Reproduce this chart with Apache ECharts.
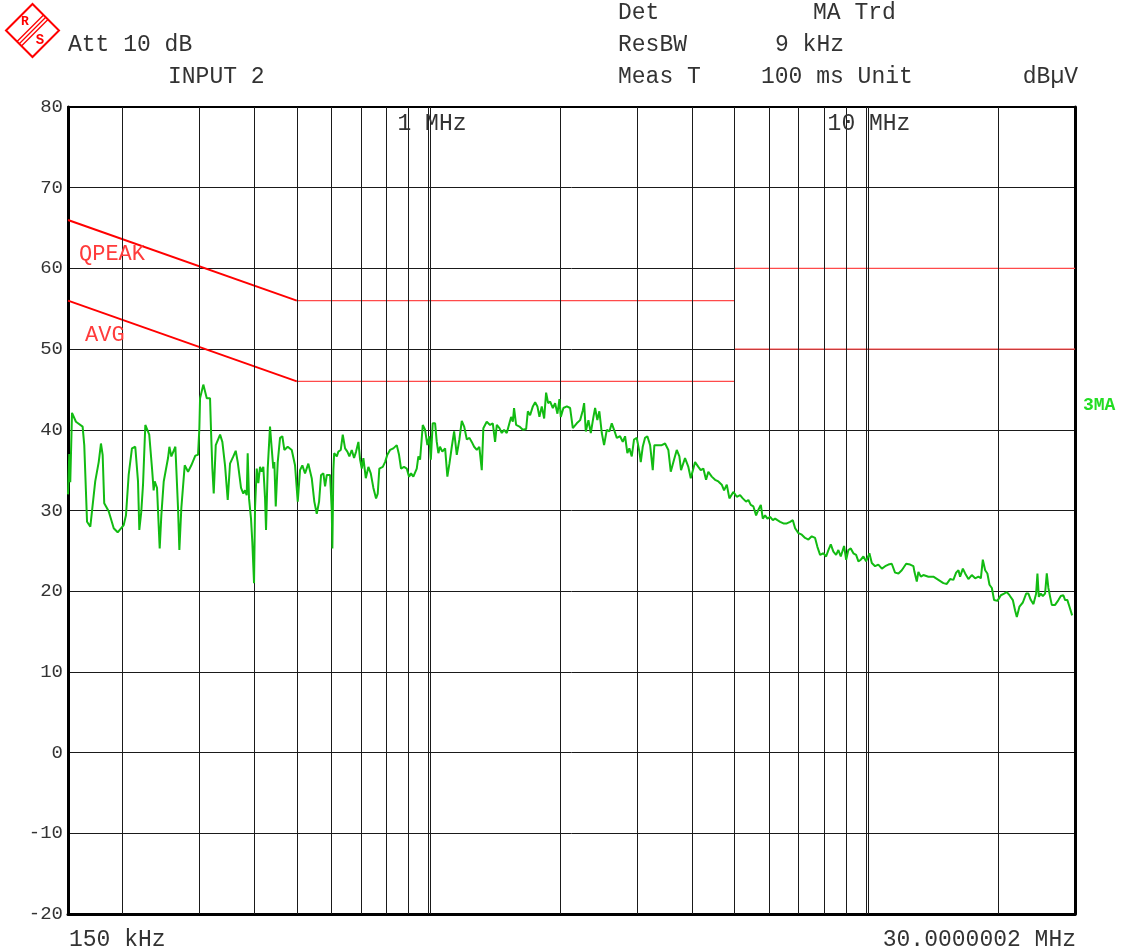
<!DOCTYPE html>
<html><head><meta charset="utf-8">
<script src="https://cdn.jsdelivr.net/npm/echarts@6/dist/echarts.min.js"></script>
<style>html,body{margin:0;padding:0;background:#fff}#c{width:1121px;height:952px}</style>
</head><body><div id="c"></div>
<script>
// ---- data (frequency in MHz, level in dBµV) ----
const traceFreqMHz = [
0.1500,0.1510,0.1518,0.1532,0.1564,0.1620,0.1634,0.1658,0.1687,0.1731,
0.1763,0.1784,0.1800,0.1815,0.1858,0.1908,0.1948,0.2011,0.2035,0.2064,
0.2100,0.2137,0.2168,0.2183,0.2206,0.2226,0.2253,0.2300,0.2334,0.2354,
0.2367,0.2396,0.2430,0.2451,0.2482,0.2539,0.2557,0.2584,0.2639,0.2676,
0.2695,0.2723,0.2772,0.2821,0.2870,0.2931,0.2973,0.2994,0.3005,0.3057,
0.3113,0.3167,0.3184,0.3206,0.3229,0.3264,0.3339,0.3379,0.3427,0.3476,
0.3518,0.3580,0.3625,0.3664,0.3728,0.3773,0.3807,0.3841,0.3861,0.3888,
0.3929,0.3956,0.3992,0.4013,0.4049,0.4083,0.4120,0.4156,0.4192,0.4230,
0.4252,0.4290,0.4342,0.4381,0.4418,0.4442,0.4475,0.4522,0.4577,0.4633,
0.4682,0.4766,0.4868,0.4953,0.5024,0.5085,0.5147,0.5221,0.5312,0.5408,
0.5482,0.5553,0.5621,0.5680,0.5750,0.5801,0.5854,0.5903,0.5956,0.6010,
0.6028,0.6060,0.6085,0.6170,0.6222,0.6300,0.6367,0.6445,0.6523,0.6593,
0.6676,0.6757,0.6829,0.6913,0.6974,0.7037,0.7097,0.7187,0.7286,0.7378,
0.7480,0.7586,0.7654,0.7718,0.7858,0.7954,0.8050,0.8166,0.8309,0.8459,
0.8561,0.8652,0.8789,0.8915,0.9023,0.9119,0.9230,0.9397,0.9478,0.9563,
0.9700,0.9818,0.9937,1.004,1.012,1.022,1.035,1.044,1.053,1.062,
1.075,1.091,1.104,1.116,1.130,1.144,1.160,1.176,1.191,1.206,
1.223,1.240,1.255,1.271,1.289,1.306,1.323,1.334,1.358,1.382,
1.402,1.419,1.432,1.452,1.470,1.488,1.509,1.530,1.544,1.558,
1.568,1.585,1.613,1.642,1.671,1.686,1.706,1.731,1.752,1.773,
1.792,1.814,1.837,1.856,1.876,1.896,1.923,1.946,1.970,1.991,
2.005,2.033,2.070,2.106,2.136,2.181,2.220,2.251,2.267,2.287,
2.319,2.348,2.381,2.402,2.430,2.456,2.488,2.518,2.554,2.589,
2.622,2.654,2.692,2.739,2.778,2.812,2.846,2.876,2.913,2.948,
2.990,3.032,3.054,3.086,3.124,3.162,3.208,3.253,3.281,3.351,
3.411,3.471,3.531,3.576,3.638,3.691,3.742,3.775,3.855,3.923,
3.973,4.028,4.064,4.135,4.187,4.245,4.306,4.358,4.437,4.515,
4.594,4.677,4.734,4.802,4.868,4.971,5.061,5.150,5.224,5.315,
5.380,5.448,5.524,5.603,5.672,5.744,5.804,5.875,5.947,6.032,
6.118,6.192,6.268,6.358,6.469,6.586,6.701,6.797,6.880,7.000,
7.126,7.251,7.378,7.510,7.642,7.735,7.846,7.983,8.098,8.196,
8.300,8.414,8.535,8.638,8.748,8.901,9.000,9.104,9.221,9.347,
9.483,9.598,9.720,9.854,9.995,10.17,10.30,10.48,10.66,10.86,
11.05,11.24,11.44,11.64,11.85,12.06,12.34,12.60,12.82,12.89,
13.05,13.16,13.33,13.51,13.87,14.24,14.62,15.01,15.28,15.55,
15.82,16.05,16.25,16.39,16.63,16.83,17.12,17.43,17.74,18.05,
18.28,18.47,18.70,18.92,19.13,19.37,19.60,19.95,20.31,20.66,
20.96,21.25,21.63,21.89,22.09,22.40,22.80,23.20,23.48,23.78,
24.11,24.45,24.62,24.80,25.06,25.33,25.63,25.86,26.08,26.32,
26.55,27.02,27.49,27.84,28.22,28.48,28.82,29.13,29.55
];
const traceLevel = [
32.0,37.0,33.5,42.1,41.0,40.4,38.1,28.6,28.0,33.6,
36.0,38.3,36.9,30.9,29.9,27.8,27.3,28.2,29.4,34.4,
37.7,37.9,33.6,27.6,29.9,33.2,40.6,39.4,35.2,32.5,
33.6,32.8,25.3,29.4,33.6,36.5,37.9,36.7,37.9,30.3,
25.1,30.3,35.6,34.8,35.6,36.8,36.9,40.2,43.9,45.6,
43.9,43.9,39.8,35.2,32.1,38.1,39.4,38.5,35.6,31.3,
35.8,36.7,37.4,36.0,32.8,32.1,32.5,31.9,37.1,31.5,
29.0,26.1,21.0,30.3,35.2,33.4,35.4,34.8,35.4,31.5,
27.6,35.2,40.4,37.7,35.2,36.0,30.5,36.0,39.0,39.2,
37.5,37.9,37.5,35.6,31.1,35.0,35.6,34.6,35.8,34.0,
31.1,29.6,31.1,34.4,34.6,33.0,34.4,34.2,34.4,29.9,
25.3,35.0,37.1,36.7,37.3,37.5,39.4,37.7,37.3,36.7,
37.5,36.5,37.3,38.5,36.3,35.2,36.5,34.0,35.4,34.6,
32.8,31.5,32.1,35.2,35.4,36.0,36.9,37.5,37.7,38.1,
36.9,35.2,35.4,35.2,34.2,34.6,34.2,35.2,36.7,36.3,
40.6,40.0,38.1,39.2,36.3,40.8,40.8,38.5,37.1,37.9,
37.3,37.7,34.2,35.8,37.9,39.8,36.9,38.8,41.1,40.4,
38.8,39.0,38.5,37.9,37.5,37.9,35.0,40.2,41.0,40.6,
40.8,38.5,40.6,40.2,39.6,40.0,39.6,40.8,41.6,41.0,
42.7,40.6,40.4,40.0,40.1,42.3,41.8,42.9,43.4,42.9,
41.6,42.9,41.4,44.6,43.3,43.5,42.7,43.3,42.0,43.8,
41.6,42.7,42.9,42.7,40.2,40.8,41.2,42.4,43.3,39.8,
41.2,39.6,41.6,42.7,41.2,42.3,39.6,38.1,40.0,39.8,
40.8,40.0,39.0,39.2,38.5,39.2,37.1,37.7,36.7,38.8,
39.0,37.3,36.0,37.9,39.0,39.2,38.1,35.0,38.1,38.1,
38.1,38.3,37.5,34.8,36.3,37.5,36.7,35.0,36.5,35.4,
34.0,35.2,36.0,35.4,35.0,35.2,33.8,34.8,34.2,33.8,
33.6,33.2,32.5,33.2,31.5,32.3,31.7,31.9,31.5,31.1,
31.3,30.7,30.5,29.4,30.1,30.7,29.0,29.4,29.0,29.2,
28.8,29.0,28.8,28.6,28.4,28.4,28.6,28.8,27.8,27.2,
27.0,26.6,26.4,26.8,26.6,25.5,24.5,24.7,24.3,25.1,
25.8,24.9,24.5,25.1,24.3,25.6,23.9,25.1,25.3,24.7,
24.5,23.7,23.9,24.3,23.7,24.7,23.5,23.1,23.3,22.8,
23.1,23.3,23.4,22.3,22.2,22.6,23.4,23.3,23.1,22.4,
21.2,22.4,21.8,22.0,21.8,21.8,21.4,21.0,20.9,21.5,
21.4,22.3,22.6,21.8,22.8,22.2,21.5,22.0,21.6,21.8,
21.6,23.9,22.6,22.2,20.8,20.4,18.9,18.8,19.5,19.7,
19.9,19.5,18.9,17.6,16.8,18.1,18.6,19.7,19.7,18.9,
18.4,19.7,22.2,19.3,19.7,19.4,19.7,22.2,20.4,19.3,
18.3,18.3,18.9,19.4,19.5,18.9,18.9,18.1,17.0
];
// limit lines
const qpeakSlopeFreq = [0.15, 0.5];
const qpeakSlopeLevel = [66, 56];
const avgSlopeFreq = [0.15, 0.5];
const avgSlopeLevel = [56, 46];
const flatStartFreq = [0.5, 5];
const flatEndFreq = [5, 30];
const qpeakFlatLevel = [56, 60];
const avgFlatLevel = [46, 50];
// vertical grid lines (MHz) and the doubled decade markers
const gridFreqMHz = [0.2,0.3,0.4,0.5,0.6,0.7,0.8,0.9,1,2,3,4,5,6,7,8,9,10,20];
const decadeMarkFreqMHz = [1.01, 10.1];
// y axis
const yMin = -20, yMax = 80, yStep = 10;

const MONO = '"Liberation Mono", "Courier New", monospace';
const chart = echarts.init(document.getElementById('c'), null, {renderer: 'canvas'});

const traceData = traceFreqMHz.map((f, i) => [f, traceLevel[i]]);
function flatData(levels) {
  const d = [];
  for (let i = 0; i < flatStartFreq.length; i++) {
    d.push([flatStartFreq[i], levels[i]], [flatEndFreq[i], levels[i]]);
    if (i < flatStartFreq.length - 1) d.push([flatEndFreq[i], '-']);
  }
  return d;
}

function txt(text, x, y, opt) {
  opt = opt || {};
  return {
    type: 'text', z: 100, silent: true,
    style: Object.assign({
      text: text, x: x, y: y,
      font: (opt.size || 23) + 'px ' + MONO,
      fill: opt.fill || '#333',
      textAlign: opt.align || 'left',
      textVerticalAlign: 'middle'
    }, opt.style || {})
  };
}

const dLog = 2.2;
const logo = [
  {type: 'polygon', z: 100, shape: {points: [[6,30.5],[32.5,4],[59,30.5],[32.5,57]]},
   style: {fill: 'none', stroke: '#ff0000', lineWidth: 2}},
  ...[-dLog, 0, dLog].map(o => ({type: 'line', z: 100,
    shape: {x1: 45.75 + o, y1: 17.25 + o, x2: 19.25 + o, y2: 43.75 + o},
    style: {stroke: '#ff0000', lineWidth: 1.3}})),
  {type: 'text', z: 100, style: {text: 'R', x: 25, y: 22, font: 'bold 13px ' + MONO, fill: '#ff0000', textAlign: 'center', textVerticalAlign: 'middle'}},
  {type: 'text', z: 100, style: {text: 'S', x: 40, y: 40, font: 'bold 14px ' + MONO, fill: '#ff0000', textAlign: 'center', textVerticalAlign: 'middle'}}
];

const option = {
  animation: false,
  backgroundColor: '#fff',
  grid: {left: 68, right: 46, top: 107, bottom: 38, show: true, borderColor: '#000', borderWidth: 1},
  xAxis: [
    {type: 'log', logBase: 10, min: 0.15, max: 30, position: 'bottom',
     axisLabel: {show: false}, axisTick: {show: false}, splitLine: {show: false},
     axisLine: {show: true, onZero: false, lineStyle: {color: '#000', width: 3}}},
    {type: 'log', logBase: 10, min: 0.15, max: 30, position: 'top',
     axisLabel: {show: false}, axisTick: {show: false}, splitLine: {show: false},
     axisLine: {show: true, onZero: false, lineStyle: {color: '#000', width: 2}}}
  ],
  yAxis: [
    {type: 'value', min: yMin, max: yMax, interval: yStep, position: 'left',
     axisLabel: {fontFamily: MONO, fontSize: 19, color: '#333', margin: 5},
     axisTick: {show: false},
     axisLine: {show: true, onZero: false, lineStyle: {color: '#000', width: 3}},
     splitLine: {show: true, lineStyle: {color: '#1a1a1a', width: 1}}},
    {type: 'value', min: yMin, max: yMax, interval: yStep, position: 'right',
     axisLabel: {show: false}, axisTick: {show: false}, splitLine: {show: false},
     axisLine: {show: true, onZero: false, lineStyle: {color: '#000', width: 3}}}
  ],
  series: [
    {type: 'line', name: 'grid', z: 1, data: [], silent: true,
     markLine: {silent: true, symbol: ['none', 'none'], label: {show: false}, animation: false,
       lineStyle: {color: '#1a1a1a', width: 1, type: 'solid'},
       data: gridFreqMHz.concat(decadeMarkFreqMHz).map(f => ({xAxis: f}))}},
    {type: 'line', name: 'QPEAK slope', z: 3, showSymbol: false, symbol: 'none', silent: true,
     data: qpeakSlopeFreq.map((f, i) => [f, qpeakSlopeLevel[i]]),
     lineStyle: {color: '#ff0000', width: 2}},
    {type: 'line', name: 'AVG slope', z: 3, showSymbol: false, symbol: 'none', silent: true,
     data: avgSlopeFreq.map((f, i) => [f, avgSlopeLevel[i]]),
     lineStyle: {color: '#ff0000', width: 2}},
    {type: 'line', name: 'QPEAK flat', z: 3, showSymbol: false, symbol: 'none', silent: true, connectNulls: false,
     data: flatData(qpeakFlatLevel), lineStyle: {color: '#ff4a4a', width: 1.2}},
    {type: 'line', name: 'AVG flat', z: 3, showSymbol: false, symbol: 'none', silent: true, connectNulls: false,
     data: flatData(avgFlatLevel), lineStyle: {color: '#ff4a4a', width: 1.2}},
    {type: 'line', name: '3MA', z: 5, showSymbol: false, symbol: 'none', silent: true, sampling: null,
     data: traceData, lineStyle: {color: '#12bb12', width: 2}}
  ],
  graphic: [
    ...logo,
    txt('Att 10 dB', 68, 45),
    txt('INPUT 2', 168, 77),
    txt('Det', 618, 13),
    txt('MA Trd', 813, 13),
    txt('ResBW', 618, 45),
    txt('9 kHz', 775, 45),
    txt('Meas T', 618, 77),
    txt('100 ms Unit', 761, 77),
    txt('dBµV', 1078, 77, {align: 'right'}),
    txt('150 kHz', 69, 940),
    txt('30.0000002 MHz', 1076, 940, {align: 'right'}),
    txt('1 MHz', 432, 124, {align: 'center'}),
    txt('10 MHz', 869, 124, {align: 'center'}),
    txt('QPEAK', 79, 254, {fill: '#ff3b3b', size: 22}),
    txt('AVG', 85, 335, {fill: '#ff3b3b', size: 22}),
    {type: 'text', z: 100, style: {text: '3MA', x: 1083, y: 405, font: 'bold 18px ' + MONO, fill: '#22dd22', textAlign: 'left', textVerticalAlign: 'middle'}}
  ]
};
chart.setOption(option);
</script>
</body></html>
